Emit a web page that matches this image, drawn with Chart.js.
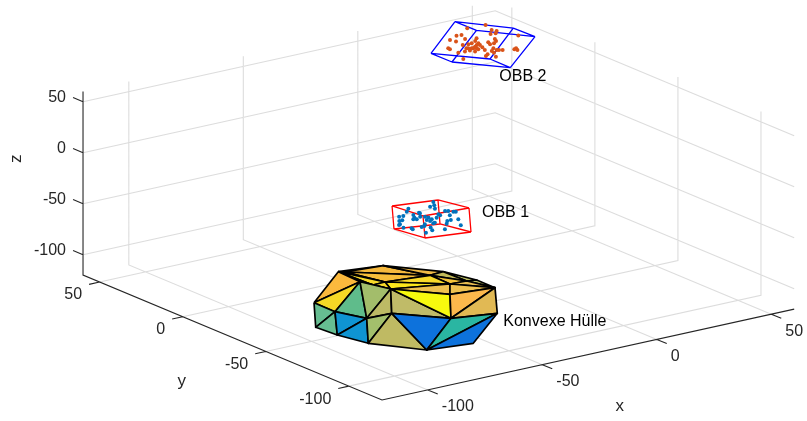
<!DOCTYPE html>
<html>
<head>
<meta charset="utf-8">
<style>html,body{margin:0;padding:0;background:#fff}canvas{display:block}</style>
<script src="https://cdn.jsdelivr.net/npm/chart.js@4/dist/chart.umd.js"></script>
</head>
<body>
<canvas id="c" width="807" height="421"></canvas>
<script>
// Axis data
const xTicks = [-100, -50, 0, 50];
const yTicks = [-100, -50, 0, 50];
const zTicks = [-100, -50, 0, 50];
const axisMin = -120;
const axisMax = 60;

// Convex hull vertices (data units)
const hullX = [-93.8,-69.14,-66.29,-62.51,-49.19,-31.81,-52.18,-39.13,-35.26,-67.43,-62.84,-45.4,-45.64,-68.32,-86.98,-82.43,-71.87,-58.34,-41.69,-96.19,-95.29,-92.11,-79.99,-62.1,-38.8];
const hullY = [-42.95,-23.57,-32.7,-45.98,-63.31,-66.44,-27.27,-45.41,-60.19,-25.24,-43,-46.04,-58.4,-43.33,-46.18,-59,-59.49,-76.53,-81.45,-47.26,-59.01,-73.29,-91.76,-95.13,-59.05];
const hullZ = [-90,-85,-90,-90,-90,-90,-85,-85,-85,-85,-85,-85,-85,-85,-100,-100,-100,-100,-100,-110,-110,-110,-110,-110,-85];
const hullFaces = [
  [1,9,6],[9,6,11],[6,7,11],[7,8,24],[7,24,11],[8,5,24],[11,24,12],[24,5,12],[9,11,10],[1,9,10],[1,10,13],[1,13,2],
  [10,11,12],[10,12,3],[13,10,3],[2,13,3],[3,12,4],[12,5,4],
  [0,1,2],[0,2,14],[14,2,15],[2,3,15],[3,16,15],[3,17,16],[3,4,17],[4,5,17],[5,18,17],
  [0,14,19],[14,20,19],[14,15,20],[15,21,20],[15,16,21],[16,22,21],[16,17,22],[17,18,22],[18,23,22]
];
const hullFaceColors = [
  "#f5b83d","#f5b83d","#eeb945","#b7bb62","#c3bb5a","#b7bb62","#f3c23a","#e6bb50","#f7bd3a","#f5b83d","#f8d92a","#f3c23a",
  "#f8d92a","#fbe61c","#f8d92a","#f3c23a","#eec050","#eec050",
  "#fbb93d","#f5d826","#5fbc8b","#a3bd6b","#bdba65","#c0bb68","#f7f90e","#fcb84c","#e1b954",
  "#66bd91","#66bd91","#0f94d2","#0f94d2","#a3bf6c","#bfba63","#0d72dc","#2ab6a2","#0d72dc"
];

// Oriented bounding box 1
const obb1X = [-47.9,-30.67,-27.28,-45.9,-47.74,-31.16,-27.78,-45.03];
const obb1Y = [-26.65,-30.55,-44.55,-42.52,-27.59,-32.44,-46.44,-42.53];
const obb1Z = [-29,-29,-29,-29,-51,-51,-51,-51];
const obb1Edges = [[0,1],[1,2],[2,3],[3,0],[4,5],[5,6],[6,7],[7,4],[0,4],[1,5],[2,6],[3,7]];

// Oriented bounding box 2
const obb2X = [20.94,38.95,39.2,20.98,33.9,51.16,51.55,33.75];
const obb2Y = [44.82,55.19,42.61,32.24,27.16,36.94,24.4,14.73];
const obb2Z = [38,53,53,38,38,53,53,38];
const obb2Edges = [[0,1],[1,2],[2,3],[3,0],[4,5],[5,6],[6,7],[7,4],[0,4],[1,5],[2,6],[3,7]];

// Point cloud 1
const cloud1X = [-25.7,-27.7,-29.8,-29.8,-37.4,-39.9,-43.9,-45.5,-47.1,-48.4,-50.5,-51.2,-51.8,-49.9,-50.3,-40.3,-41.8,-43.3,-37.1,-37.3,-42.3,-39.5,-38.1,-37.8,-38,-39.9,-39.6,-40.3,-39.4,-35.5,-32.9,-32.7,-28.5,-27.6,-26.6,-25.9,-30.1,-30.4,-33,-34.7,-36.7,-33.8,-41.1,-44.7,-46.1,-48.8,-44,-45.4,-43.4];
const cloud1Y = [-20.9,-24.2,-24.6,-27.5,-22,-24.5,-27.9,-27.6,-31.7,-31.7,-35,-35.4,-38.9,-41.2,-42.4,-29,-31.7,-33.1,-28,-28.8,-33.8,-32,-33,-34.6,-36.9,-36.5,-38.1,-41,-40.7,-36.4,-34.9,-33.6,-31.8,-32.5,-34.2,-34.7,-36.9,-42.4,-41.5,-41.7,-44.1,-48.6,-49.1,-41.7,-42,-48.3,-44.5,-47.4,-40.2];
const cloud1Z = -40;

// Point cloud 2
const cloud2X = [43.5,51,49.3,50.1,48.2,46.3,37.3,35.4,35.6,30.6,31.2,39.3,37.1,34.5,32.9,30.8,44.1,43.1,40.9,39.9,39.1,36.4,34.8,33.2,31.6,29.6,29,26.9,34.8,33.7,31.5,29.9,32.3,29.8,31.1,24.4,24.2,24.3,21.4,37.3,37.1,37.8,38.8,32.3,34.5,42.6,43.8,43,53.1,30.1,32.5,35.7,35];
const cloud2Y = [54.1,53.4,47.4,45.5,43.5,43.9,49,49.4,44.5,46.7,43.9,42.7,40.5,39,38.8,39.3,38.3,36.2,34.4,36.5,34.3,37.6,36.4,35.2,34,35.4,32.5,32.6,33,30,25.3,24.1,32,30.5,34.3,39.2,37.9,33,26,29.8,27.5,27.1,26.3,21.4,25.6,24.5,25.1,23.2,36.6,35,33.3,35.7,27.6];
const cloud2Z = 45;

// Text
const annotationTexts = ["Konvexe Hülle", "OBB 1", "OBB 2"];
const axisTitles = ["x", "y", "z"];

// Orthographic view of the 3-D axes onto the 2-D scatter plane
const view = {ox:382, oy:400, xx:2.29, xy:-0.505, yx:-1.661, yy:-0.694, zy:-1.02};
function project(x, y, z) {
  const u = x - axisMin, v = y - axisMin, w = z - axisMin;
  return {x: view.ox + view.xx*u + view.yx*v, y: view.oy + view.xy*u + view.yy*v + view.zy*w};
}
const GAP = {x: NaN, y: NaN};

function polyline(segments) {
  const out = [];
  segments.forEach((seg, i) => {
    if (i) out.push(GAP);
    seg.forEach(p => out.push(project(p[0], p[1], p[2])));
  });
  return out;
}

// grid
const gridSegs = [];
zTicks.forEach(z => gridSegs.push([[axisMin,axisMax,z],[axisMax,axisMax,z],[axisMax,axisMin,z]]));
xTicks.forEach(x => gridSegs.push([[x,axisMin,axisMin],[x,axisMax,axisMin],[x,axisMax,axisMax]]));
yTicks.forEach(y => gridSegs.push([[axisMin,y,axisMin],[axisMax,y,axisMin],[axisMax,y,axisMax]]));

// axes + tick marks
const axisSegs = [
  [[axisMin,axisMax,axisMax],[axisMin,axisMax,axisMin],[axisMin,axisMin,axisMin],[axisMax,axisMin,axisMin]]
];
zTicks.forEach(z => axisSegs.push([[axisMin,axisMax,z],[axisMin,axisMax+6,z]]));
yTicks.forEach(y => axisSegs.push([[axisMin,y,axisMin],[axisMin-4.6,y,axisMin]]));
xTicks.forEach(x => axisSegs.push([[x,axisMin,axisMin],[x,axisMin-6,axisMin]]));

function edgeSegs(X, Y, Z, edges) {
  return edges.map(e => e.map(i => [X[i], Y[i], Z[i]]));
}

const layers = [];
layers.push({label:"grid", data:polyline(gridSegs), showLine:true, pointRadius:0, borderColor:"rgba(38,38,38,0.16)", borderWidth:1.1, tension:0});
layers.push({label:"axes", data:polyline(axisSegs), showLine:true, pointRadius:0, borderColor:"#262626", borderWidth:1.1, tension:0});
hullFaces.forEach((f, i) => {
  const pts = f.concat(f[0]).map(k => project(hullX[k], hullY[k], hullZ[k]));
  layers.push({label:"Konvexe Hülle " + i, data:pts, showLine:true, pointRadius:0, fill:"shape",
    backgroundColor:hullFaceColors[i], borderColor:"#000", borderWidth:1.7, borderJoinStyle:"round", tension:0});
});
layers.push({label:"OBB 1", data:polyline(edgeSegs(obb1X,obb1Y,obb1Z,obb1Edges)), showLine:true, pointRadius:0, borderColor:"#ff0000", borderWidth:1.3, tension:0});
layers.push({label:"Punkte 1", data:cloud1X.map((x,i)=>project(x,cloud1Y[i],cloud1Z)), showLine:false, pointRadius:2, pointBorderWidth:0, pointBackgroundColor:"#0072bd"});
layers.push({label:"OBB 2", data:polyline(edgeSegs(obb2X,obb2Y,obb2Z,obb2Edges)), showLine:true, pointRadius:0, borderColor:"#0000ff", borderWidth:1.3, tension:0});
layers.push({label:"Punkte 2", data:cloud2X.map((x,i)=>project(x,cloud2Y[i],cloud2Z)), showLine:false, pointRadius:2, pointBorderWidth:0, pointBackgroundColor:"#d95319"});
layers.forEach((d, i) => { d.order = layers.length - i; d.spanGaps = false; });

const FONT = '16px "Liberation Sans", Arial, Helvetica, sans-serif';
const textPlugin = {
  id: "axisText",
  afterDraw(chart) {
    const {ctx, scales} = chart;
    const px = p => ({x: scales.x.getPixelForValue(p.x), y: scales.y.getPixelForValue(p.y)});
    const put = (text, p, dx, dy, align, color) => {
      const q = px(p);
      ctx.fillStyle = color;
      ctx.textAlign = align;
      ctx.fillText(text, q.x + dx, q.y + dy);
    };
    ctx.save();
    ctx.font = FONT;
    ctx.textBaseline = "middle";
    const tick = "#262626";
    zTicks.forEach(z => put(String(z), project(axisMin,axisMax,z), -17, -4.5, "right", tick));
    yTicks.forEach(y => put(String(y), project(axisMin,y,axisMin), -17.5, 13, "right", tick));
    xTicks.forEach(x => put(String(x), project(x,axisMin,axisMin), 14, 17, "left", tick));
    put(annotationTexts[0], project(hullX[18],hullY[18],hullZ[18]), 6, 8.5, "left", "#000");
    put(annotationTexts[1], project(obb1X[2],obb1Y[2],obb1Z[2]), 13, 4.5, "left", "#000");
    put(annotationTexts[2], project(obb2X[7],obb2Y[7],obb2Z[7]), -11, 8.5, "left", "#000");
    ctx.font = '17px "Liberation Sans", Arial, Helvetica, sans-serif';
    put(axisTitles[0], project(0,axisMin,axisMin), -37, 67, "center", tick);
    put(axisTitles[1], project(axisMin,-50,axisMin), -84, 30, "center", tick);
    const zAnchor = px(project(axisMin,axisMax,0));
    ctx.translate(zAnchor.x - 67, zAnchor.y + 6);
    ctx.rotate(-Math.PI/2);
    ctx.textAlign = "center";
    ctx.fillStyle = tick;
    ctx.fillText(axisTitles[2], 0, 0);
    ctx.restore();
  }
};

new Chart(document.getElementById("c"), {
  type: "scatter",
  data: {datasets: layers},
  options: {
    responsive: false,
    animation: false,
    devicePixelRatio: 1,
    layout: {padding: 0, autoPadding: false},
    plugins: {legend: {display:false}, tooltip: {enabled:false}, title:{display:false}},
    scales: {
      x: {type:"linear", display:false, min:0, max:807},
      y: {type:"linear", display:false, min:0, max:421, reverse:true}
    }
  },
  plugins: [textPlugin]
});
</script>
</body>
</html>
